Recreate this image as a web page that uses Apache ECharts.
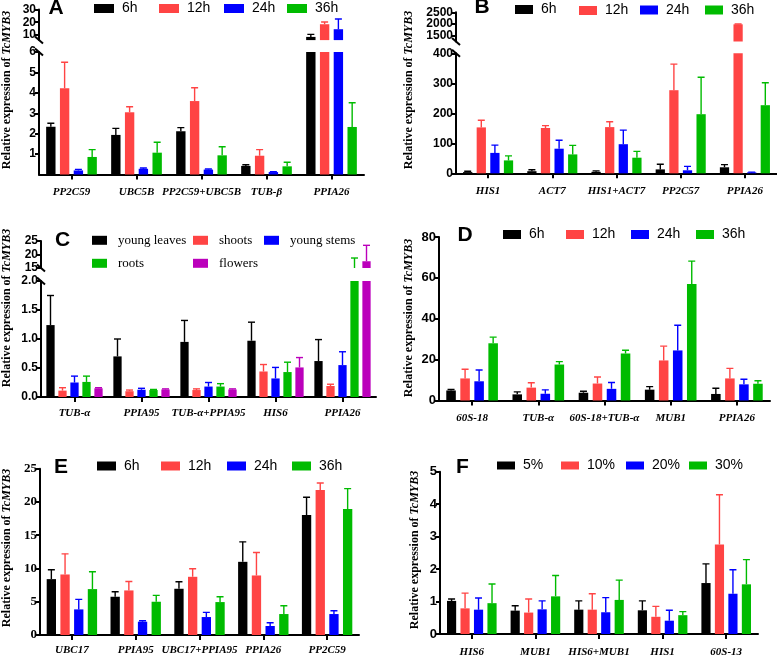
<!DOCTYPE html>
<html><head><meta charset="utf-8">
<script src="https://cdn.jsdelivr.net/npm/echarts@6/dist/echarts.min.js"></script>
<style>html,body{margin:0;padding:0;background:#fff}#c{width:777px;height:657px}</style>
</head><body><div id="c"></div>
<script>
// ================= DATA =================
const timeNames = ['6h', '12h', '24h', '36h'];
const tissueNames = ['young leaves', 'shoots', 'young stems', 'roots', 'flowers'];
const concNames = ['5%', '10%', '20%', '30%'];

// Panel A
const catsA = ['PP2C59', 'UBC5B', 'PP2C59+UBC5B', 'TUB-β', 'PPIA26'];
const A_6h = [2.34, 1.94, 2.12, 0.42, 8.5];
const A_12h = [4.23, 3.05, 3.60, 0.92, 18.4];
const A_24h = [0.20, 0.28, 0.24, 0.12, 14.5];
const A_36h = [0.86, 1.07, 0.94, 0.40, 2.33];
const A_6h_sd = [0.17, 0.32, 0.18, 0.06, 2.0];
const A_12h_sd = [1.27, 0.27, 0.65, 0.30, 1.8];
const A_24h_sd = [0.05, 0.04, 0.03, 0.02, 8.0];
const A_36h_sd = [0.36, 0.51, 0.42, 0.20, 1.19];
const ticksA_low = [1, 2, 3, 4, 5, 6];
const ticksA_high = [10, 20, 30];

// Panel B
const catsB = ['HIS1', 'ACT7', 'HIS1+ACT7', 'PP2C57', 'PPIA26'];
const B_6h = [4, 7, 5, 13, 20];
const B_12h = [153, 151, 154, 277, 1985];
const B_24h = [68, 82, 97, 10, 3];
const B_36h = [43, 63, 52, 197, 227];
const B_6h_sd = [3, 5, 3, 17, 9];
const B_12h_sd = [24, 8, 18, 87, 15];
const B_24h_sd = [26, 28, 47, 13, 1];
const B_36h_sd = [15, 30, 21, 123, 75];
const ticksB_low = [0, 100, 200, 300, 400];
const ticksB_high = [1500, 2000, 2500];

// Panel C
const catsC = ['TUB-α', 'PPIA95', 'TUB-α+PPIA95', 'HIS6', 'PPIA26'];
const C_leaves = [1.24, 0.70, 0.95, 0.97, 0.62];
const C_shoots = [0.11, 0.10, 0.12, 0.44, 0.19];
const C_stems = [0.25, 0.125, 0.18, 0.32, 0.55];
const C_roots = [0.26, 0.12, 0.18, 0.43, 13.0];
const C_flowers = [0.15, 0.13, 0.13, 0.51, 17.5];
const C_leaves_sd = [0.51, 0.30, 0.37, 0.32, 0.37];
const C_shoots_sd = [0.05, 0.02, 0.02, 0.12, 0.03];
const C_stems_sd = [0.11, 0.025, 0.07, 0.19, 0.23];
const C_roots_sd = [0.10, 0.01, 0.05, 0.17, 5.7];
const C_flowers_sd = [0.01, 0.01, 0.01, 0.17, 5.9];
const ticksC_low = [0, 0.5, 1.0, 1.5, 2.0];
const ticksC_high = [15, 20, 25];

// Panel D
const catsD = ['60S-18', 'TUB-α', '60S-18+TUB-α', 'MUB1', 'PPIA26'];
const D_6h = [4.9, 3.0, 3.8, 5.3, 3.2];
const D_12h = [10.8, 6.3, 8.3, 19.6, 10.8];
const D_24h = [9.4, 3.3, 5.7, 24.5, 7.9];
const D_36h = [28.0, 17.6, 23.0, 57.0, 8.2];
const D_6h_sd = [0.5, 1.2, 0.7, 1.5, 2.8];
const D_12h_sd = [4.5, 2.4, 3.2, 7.0, 4.9];
const D_24h_sd = [5.5, 1.9, 3.1, 12.3, 2.5];
const D_36h_sd = [3.0, 1.4, 1.6, 11.2, 1.5];
const ticksD = [0, 20, 40, 60, 80];

// Panel E
const catsE = ['UBC17', 'PPIA95', 'UBC17+PPIA95', 'PPIA26', 'PP2C59'];
const E_6h = [8.4, 5.75, 6.95, 11.0, 18.05];
const E_12h = [9.1, 6.7, 8.75, 8.95, 21.8];
const E_24h = [3.85, 2.0, 2.7, 1.35, 3.15];
const E_36h = [6.9, 5.0, 4.95, 3.15, 18.95];
const E_6h_sd = [1.4, 0.75, 1.05, 3.0, 2.65];
const E_12h_sd = [3.1, 1.35, 1.2, 3.45, 1.05];
const E_24h_sd = [1.5, 0.15, 0.7, 0.5, 0.5];
const E_36h_sd = [2.6, 0.95, 0.8, 1.25, 3.05];
const ticksE = [0, 5, 10, 15, 20, 25];

// Panel F
const catsF = ['HIS6', 'MUB1', 'HIS6+MUB1', 'HIS1', '60S-13'];
const F_5 = [1.02, 0.72, 0.75, 0.73, 1.57];
const F_10 = [0.79, 0.66, 0.75, 0.53, 2.76];
const F_20 = [0.75, 0.76, 0.67, 0.41, 1.24];
const F_30 = [0.95, 1.16, 1.05, 0.58, 1.53];
const F_5_sd = [0.06, 0.15, 0.27, 0.29, 0.59];
const F_10_sd = [0.47, 0.42, 0.49, 0.32, 1.53];
const F_20_sd = [0.36, 0.26, 0.45, 0.32, 0.74];
const F_30_sd = [0.59, 0.64, 0.61, 0.11, 0.76];
const ticksF = [0, 1, 2, 3, 4, 5];

// ================= STYLE / LAYOUT =================
const SANS = 'Liberation Sans, Arial, sans-serif';
const SERIF = 'Liberation Serif, Times New Roman, serif';
const col4 = ['#000000', '#ff4444', '#0000ff', '#00bb00'];
const col5 = ['#000000', '#ff4444', '#0000ff', '#00bb00', '#bb00bb'];

const panels = [
  { id: 'A', cats: catsA, names: timeNames, colors: col4,
    means: [A_6h, A_12h, A_24h, A_36h], sds: [A_6h_sd, A_12h_sd, A_24h_sd, A_36h_sd],
    left: 39, width: 325, cg: 22, bg: 47, catMargin: 12, yFont: SANS, yFontSize: 12,
    segs: [{ top: 52.1, height: 122.4, min: 0, max: 6, ticks: ticksA_low },
           { top: 9.4, height: 30.7, min: 6, max: 30, ticks: ticksA_high, split: true }],
    letter: [56, 8], yName: [6.5, 90],
    legend: { font: SANS, fs: 14, iw: 20, ih: 9, pad: 3, items: [[94, 8.5], [159, 8.5], [224, 8.5], [287, 8.5]] } },
  { id: 'B', cats: catsB, names: timeNames, colors: col4,
    means: [B_6h, B_12h, B_24h, B_36h], sds: [B_6h_sd, B_12h_sd, B_24h_sd, B_36h_sd],
    left: 456, width: 321, cg: 22, bg: 47, catMargin: 12, yFont: SANS, yFontSize: 12,
    segs: [{ top: 53.3, height: 120, min: 0, max: 400, ticks: ticksB_low },
           { top: 12.3, height: 29.2, min: 1250, max: 2500, ticks: ticksB_high, split: true }],
    letter: [482, 7.5], yName: [408.5, 90],
    legend: { font: SANS, fs: 14, iw: 18, ih: 9, pad: 3, items: [[515, 9.5], [579, 10.5], [640, 10], [705, 10]] } },
  { id: 'C', cats: catsC, names: tissueNames, colors: col5,
    means: [C_leaves, C_shoots, C_stems, C_roots, C_flowers],
    sds: [C_leaves_sd, C_shoots_sd, C_stems_sd, C_roots_sd, C_flowers_sd],
    left: 41, width: 335, cg: 16, bg: 45, catMargin: 11, yFont: SANS, yFontSize: 12,
    segs: [{ top: 281, height: 116, min: 0, max: 2, ticks: ticksC_low, fmt: v => v.toFixed(1) },
           { top: 241, height: 27, min: 15, max: 25, ticks: ticksC_high, split: true }],
    letter: [62.5, 240], yName: [6.5, 308],
    legend: { font: SERIF, fs: 13, iw: 15, ih: 9, pad: 6, items: [[92, 240.3], [193, 240.3], [264, 240.3], [92, 263.3], [193, 263.3]] } },
  { id: 'D', cats: catsD, names: timeNames, colors: col4,
    means: [D_6h, D_12h, D_24h, D_36h], sds: [D_6h_sd, D_12h_sd, D_24h_sd, D_36h_sd],
    left: 439, width: 331, cg: 22, bg: 47, catMargin: 12, yFont: SANS, yFontSize: 13,
    segs: [{ top: 237, height: 163.5, min: 0, max: 80, ticks: ticksD }],
    letter: [465, 235], yName: [408.5, 318],
    legend: { font: SANS, fs: 14, iw: 18, ih: 9, pad: 3, items: [[503, 234.5], [566, 234.5], [631, 234.5], [696, 234.5]] } },
  { id: 'E', cats: catsE, names: timeNames, colors: col4,
    means: [E_6h, E_12h, E_24h, E_36h], sds: [E_6h_sd, E_12h_sd, E_24h_sd, E_36h_sd],
    left: 40, width: 319, cg: 21, bg: 47, catMargin: 10, yFont: SERIF, yFontSize: 13,
    segs: [{ top: 468.7, height: 166.3, min: 0, max: 25, ticks: ticksE }],
    letter: [61, 467], yName: [6.5, 548],
    legend: { font: SANS, fs: 14, iw: 19, ih: 9, pad: 3, items: [[97, 466], [161, 466], [227, 466], [292, 466]] } },
  { id: 'F', cats: catsF, names: concNames, colors: col4,
    means: [F_5, F_10, F_20, F_30], sds: [F_5_sd, F_10_sd, F_20_sd, F_30_sd],
    left: 440, width: 318, cg: 22, bg: 47, catMargin: 13, yFont: SANS, yFontSize: 13,
    segs: [{ top: 471.7, height: 162.3, min: 0, max: 5, ticks: ticksF }],
    letter: [462.5, 467.5], yName: [415, 550],
    legend: { font: SANS, fs: 14, iw: 18, ih: 8, pad: 3, items: [[497, 465.5], [561, 465.5], [626, 465.5], [689, 465.5]] } }
];

// ================= BUILD =================
const grids = [], xAxes = [], yAxes = [], series = [], legends = [], graphics = [];

function makeErr(k, n, cg, bg, ymin, ymax, color) {
  return function (params, api) {
    const i = api.value(0), v = api.value(1), t = api.value(2);
    if (v >= ymax || t <= ymin) return null;
    const lo = Math.max(v, ymin), hi = Math.min(t, ymax);
    const band = api.size([1, 0])[0];
    const avail = band * (1 - cg);
    const w = avail / (n + (n - 1) * bg);
    const cx = api.coord([i, 0])[0] - avail / 2 + k * w * (1 + bg) + w / 2;
    const y1 = api.coord([i, lo])[1], y2 = api.coord([i, hi])[1];
    const st = { stroke: color, lineWidth: 1.4 };
    const ch = [{ type: 'line', shape: { x1: cx, y1: y1, x2: cx, y2: y2 }, style: st }];
    if (t <= ymax) ch.push({ type: 'line', shape: { x1: cx - 3.5, y1: y2, x2: cx + 3.5, y2: y2 }, style: st });
    return { type: 'group', children: ch };
  };
}

function yAxisCfg(gi, p, s, ticks, showLine) {
  return { gridIndex: gi, type: 'value', min: s.min, max: s.max, position: 'left', offset: 0,
    axisLine: { show: showLine, lineStyle: { color: '#000', width: 2 } },
    axisTick: { show: true, length: 4, lineStyle: { color: '#000', width: 2 }, customValues: ticks },
    axisLabel: { customValues: ticks, formatter: s.fmt || (v => String(v)), fontFamily: p.yFont,
                 fontWeight: 'bold', fontSize: p.yFontSize, lineHeight: 9, color: '#000', margin: 3,
                 hideOverlap: false, showMinLabel: true, showMaxLabel: true },
    splitLine: { show: false } };
}

panels.forEach(p => {
  p.segs.forEach((s, si) => {
    const gi = grids.length;
    grids.push({ left: p.left, top: s.top, width: p.width, height: s.height, show: false,
                 containLabel: false, outerBoundsMode: 'none' });
    xAxes.push({ gridIndex: gi, type: 'category', data: p.cats, show: si === 0,
      axisLine: { show: true, lineStyle: { color: '#000', width: 2 } },
      axisTick: { show: true, alignWithLabel: true, length: 5, lineStyle: { color: '#000', width: 2 } },
      axisLabel: { interval: 0, hideOverlap: false, margin: p.catMargin, fontFamily: SERIF, fontWeight: 'bold',
                   fontStyle: 'italic', fontSize: 11, color: '#000' },
      splitLine: { show: false } });
    const yi = yAxes.length;
    if (s.split) {
      // crowded short segment: put alternate labels on two overlapping axes so none is dropped
      yAxes.push(yAxisCfg(gi, p, s, s.ticks.filter((t, j) => j % 2 === 0), true));
      yAxes.push(yAxisCfg(gi, p, s, s.ticks.filter((t, j) => j % 2 === 1), false));
    } else {
      yAxes.push(yAxisCfg(gi, p, s, s.ticks, true));
    }
    p.names.forEach((nm, k) => {
      series.push({ type: 'bar', name: nm, xAxisIndex: gi, yAxisIndex: yi, data: p.means[k],
        itemStyle: { color: p.colors[k] }, barCategoryGap: p.cg + '%', barGap: p.bg + '%',
        clip: true, silent: true });
    });
    p.names.forEach((nm, k) => {
      series.push({ type: 'custom', name: 'err-' + p.id + '-' + k, xAxisIndex: gi, yAxisIndex: yi, z: 3,
        silent: true, clip: true, encode: { x: 0, y: 1 },
        data: p.means[k].map((v, i) => [i, v, v + p.sds[k][i]]),
        renderItem: makeErr(k, p.names.length, p.cg / 100, p.bg / 100, s.min, s.max, p.colors[k]) });
    });
  });

  // break marks on the y axis for broken panels
  if (p.segs.length > 1) {
    const lowTop = p.segs[0].top;
    const highBot = p.segs[1].top + p.segs[1].height;
    [lowTop, highBot].forEach(y => {
      graphics.push({ type: 'line', shape: { x1: p.left - 4, y1: y - 3.5, x2: p.left + 4, y2: y + 3.5 },
        style: { stroke: '#000', lineWidth: 2 }, silent: true });
    });
  }

  // panel letter
  graphics.push({ type: 'text', x: p.letter[0], y: p.letter[1], silent: true,
    style: { text: p.id, fontFamily: SANS, fontWeight: 'bold', fontSize: 21, fill: '#000',
             align: 'center', verticalAlign: 'middle', textAlign: 'center', textVerticalAlign: 'middle' } });

  // y axis title
  graphics.push({ type: 'text', x: p.yName[0], y: p.yName[1], rotation: Math.PI / 2, silent: true,
    style: { text: '{n|Relative expression of }{i|TcMYB3}',
      rich: { n: { fontFamily: SERIF, fontWeight: 'bold', fontSize: 12, fill: '#000' },
              i: { fontFamily: SERIF, fontWeight: 'bold', fontStyle: 'italic', fontSize: 12, fill: '#000' } },
      align: 'center', verticalAlign: 'middle', textAlign: 'center', textVerticalAlign: 'middle' } });

  // legends (one per item so that columns line up)
  p.names.forEach((nm, k) => {
    const it = p.legend.items[k];
    legends.push({ data: [nm], left: it[0], top: it[1] - 8, orient: 'horizontal', padding: 0, itemGap: 0,
      itemWidth: p.legend.iw, itemHeight: p.legend.ih, icon: 'rect', selectedMode: false,
      textStyle: { fontFamily: p.legend.font, fontSize: p.legend.fs, color: '#000', lineHeight: 16,
                   padding: [0, 0, 0, p.legend.pad] } });
  });
});

const chart = echarts.init(document.getElementById('c'), null, { renderer: 'canvas' });
chart.setOption({
  animation: false,
  backgroundColor: '#fff',
  tooltip: { show: false },
  grid: grids, xAxis: xAxes, yAxis: yAxes, series: series, legend: legends,
  graphic: { elements: graphics }
});
</script>
</body></html>
